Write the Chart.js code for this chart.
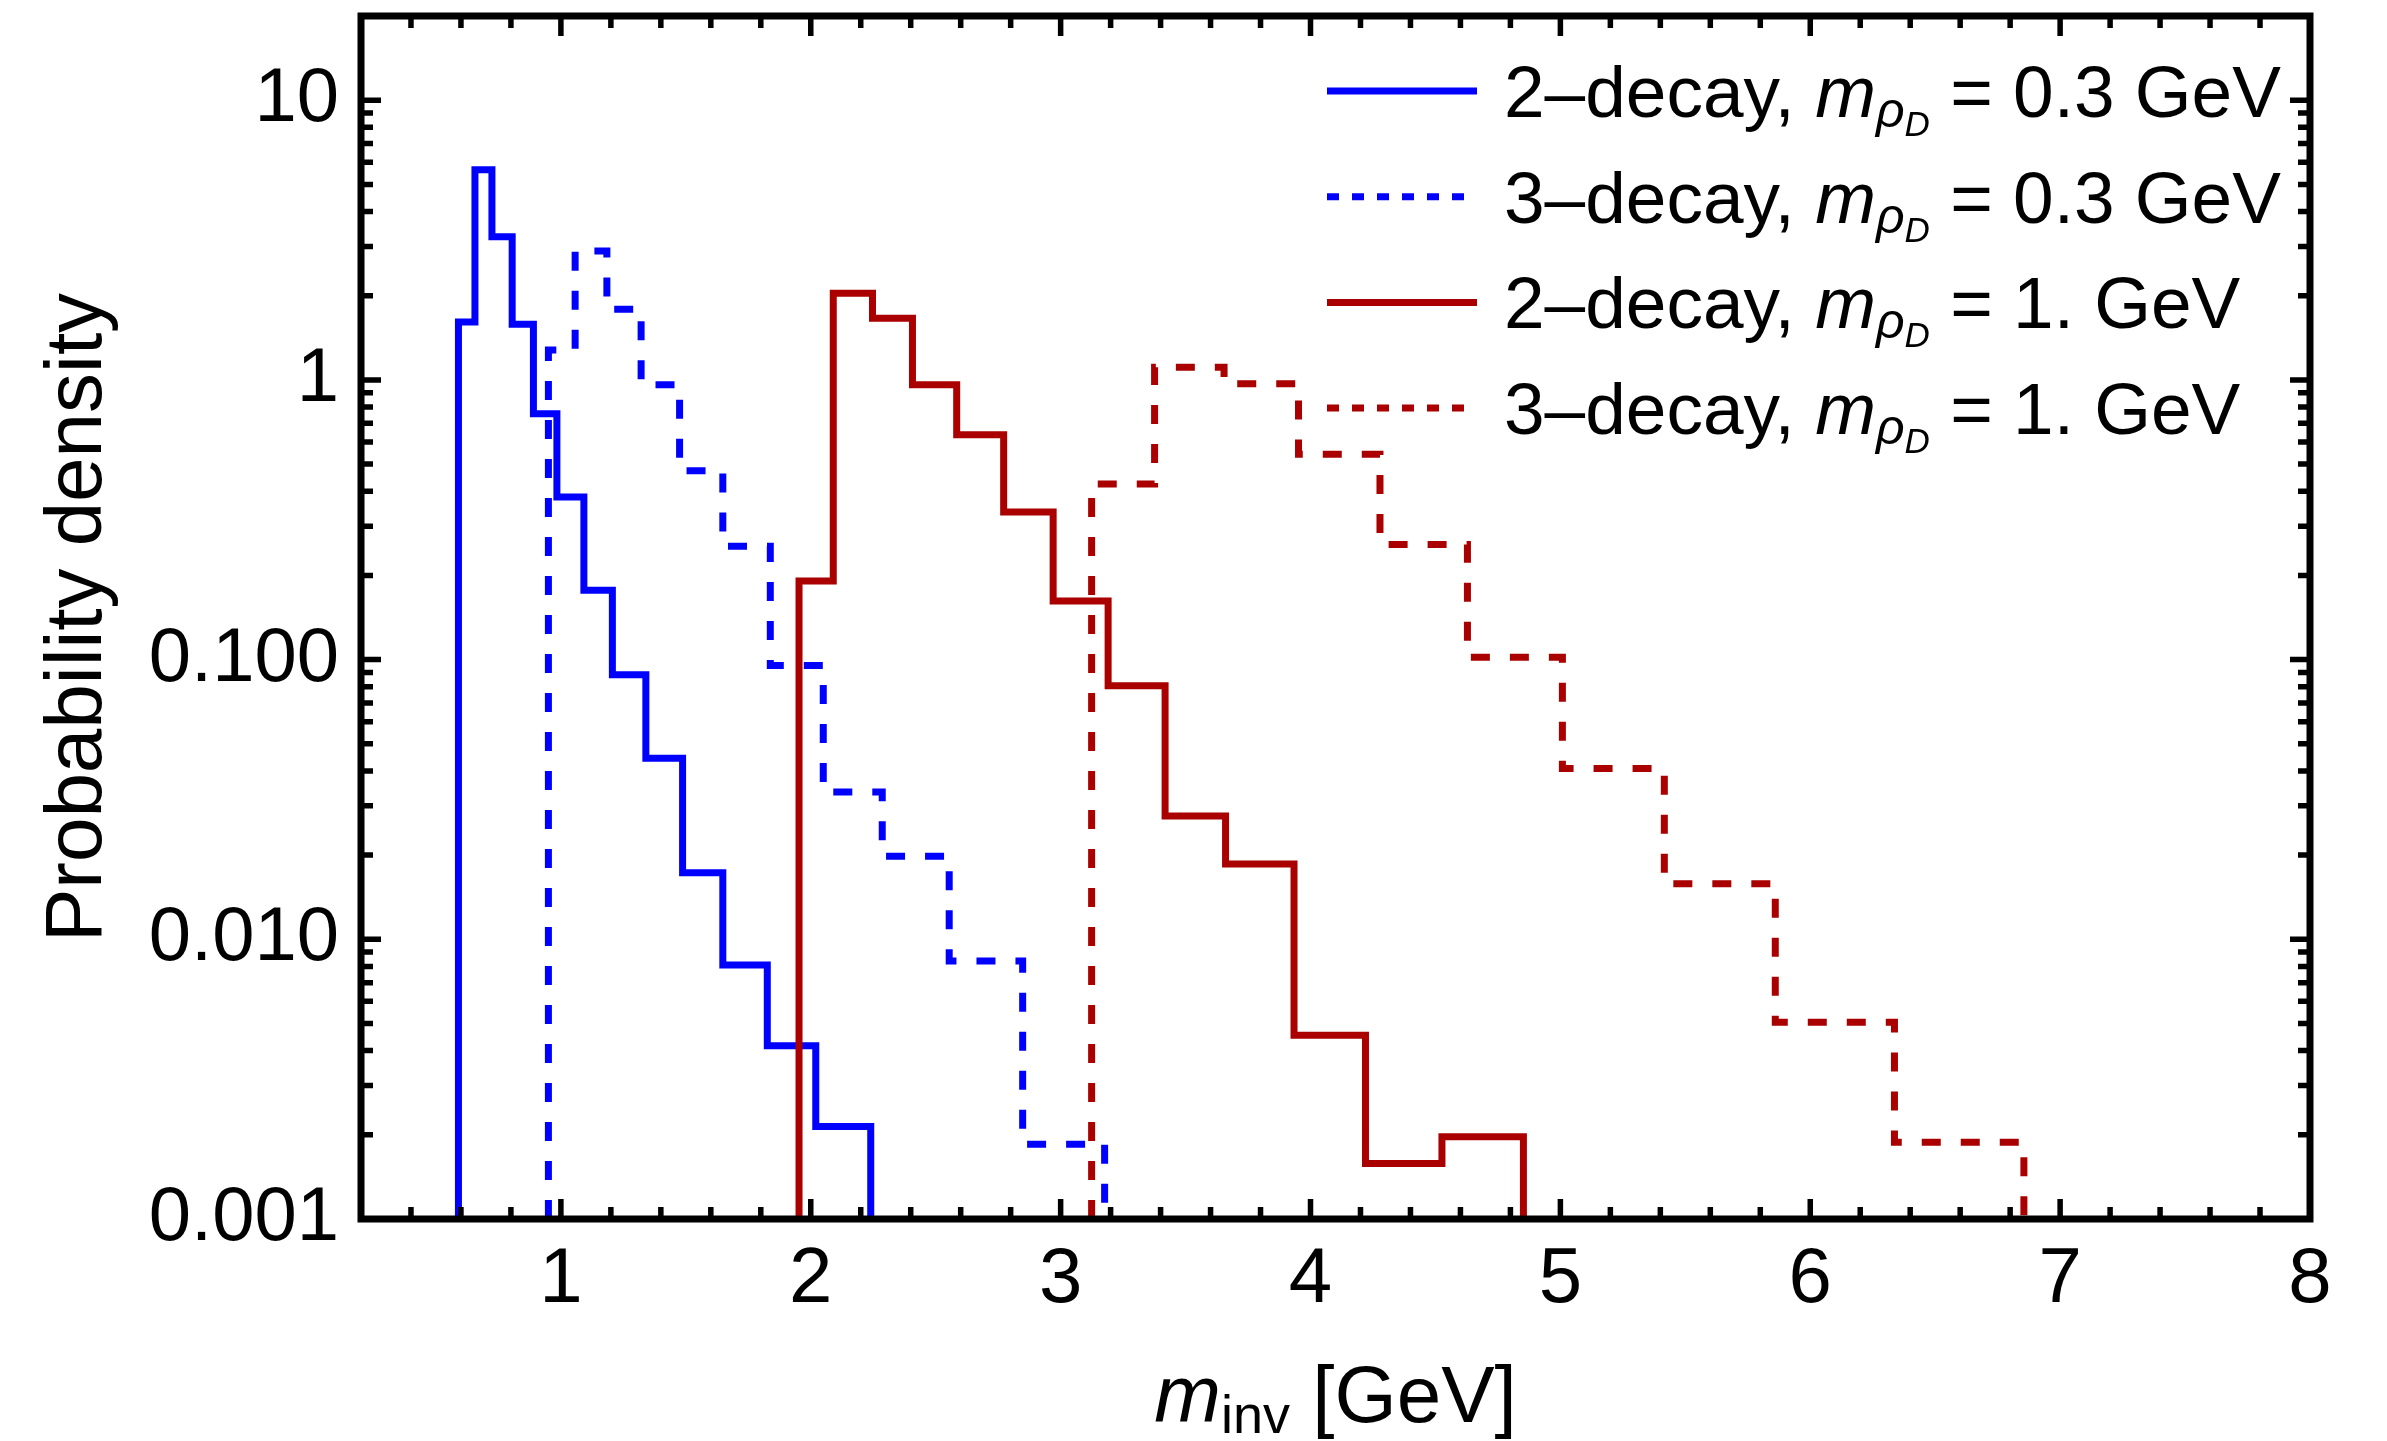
<!DOCTYPE html>
<html>
<head>
<meta charset="utf-8">
<script src="https://cdn.jsdelivr.net/npm/chart.js@4.4.1/dist/chart.umd.min.js"></script>
<style>
  html, body { margin: 0; padding: 0; background: #fff; }
</style>
</head>
<body>
<canvas id="myChart" width="2387" height="1441"></canvas>
<script>
// histogram bin edges (GeV) and probability densities
const edges2Light = [0.59, 0.656, 0.724, 0.805, 0.89, 0.984, 1.092, 1.206, 1.34, 1.487, 1.648, 1.826, 2.02, 2.24];
const dens2Light = [1.61, 5.64, 3.25, 1.58, 0.757, 0.381, 0.177, 0.0883, 0.0444, 0.0173, 0.0081, 0.00416, 0.00214];

const edges3Light = [0.95, 1.057, 1.184, 1.321, 1.475, 1.648, 1.838, 2.05, 2.286, 2.554, 2.848, 3.176];
const dens3Light = [1.28, 2.89, 1.79, 0.96, 0.473, 0.254, 0.0952, 0.0336, 0.0198, 0.00837, 0.00185];

const edges2Heavy = [1.953, 2.09, 2.247, 2.407, 2.584, 2.772, 2.97, 3.19, 3.418, 3.66, 3.934, 4.22, 4.526, 4.852];
const dens2Heavy = [0.191, 2.04, 1.66, 0.96, 0.637, 0.337, 0.162, 0.0807, 0.0276, 0.0186, 0.00454, 0.00158, 0.00197];

const edges3Heavy = [3.124, 3.376, 3.654, 3.952, 4.278, 4.628, 5.008, 5.416, 5.86, 6.337, 6.855];
const dens3Heavy = [0.424, 1.11, 0.968, 0.542, 0.258, 0.102, 0.0408, 0.0158, 0.00505, 0.00188];

const seriesNames = ["2\u2013decay", "3\u2013decay", "2\u2013decay", "3\u2013decay"];
const massLabels = ["0.3 GeV", "0.3 GeV", "1. GeV", "1. GeV"];

const xTicks = [1, 2, 3, 4, 5, 6, 7, 8];
const xTickLabels = ["1", "2", "3", "4", "5", "6", "7", "8"];
const yTicks = [0.001, 0.01, 0.1, 1, 10];
const yTickLabels = ["0.001", "0.010", "0.100", "1", "10"];

const X_MIN = 0.2, X_MAX = 8;
const Y_MIN = 0.001, Y_MAX = 20;

const BLUE = "#0000ff";
const DARKRED = "#aa0000";
const FONT = "'Liberation Sans', Arial, sans-serif";
const DASH = [19, 20];

/* turn edges + bin heights into the corner points of a step outline */
function histPoints(edges, vals) {
  const last = edges[edges.length - 1];
  const pts = [{ x: edges[0], y: Y_MIN }];
  vals.forEach((v, i) => pts.push({ x: edges[i], y: v }));
  pts.push({ x: last, y: vals[vals.length - 1] });
  pts.push({ x: last, y: Y_MIN });
  return pts;
}

function histDataset(edges, vals, color, dashed, order) {
  return {
    data: histPoints(edges, vals),
    showLine: true,
    stepped: true,
    borderColor: color,
    borderWidth: 7,
    borderDash: dashed ? DASH : [],
    borderJoinStyle: "miter",
    borderCapStyle: "butt",
    pointRadius: 0,
    pointHoverRadius: 0,
    fill: false,
    order: order,
  };
}

const legendStyles = [
  { color: BLUE, dash: [] },
  { color: BLUE, dash: [12, 13] },
  { color: DARKRED, dash: [] },
  { color: DARKRED, dash: [12, 13] },
];

function richText(ctx, x, y, parts, align) {
  let w = 0;
  parts.forEach((p) => {
    ctx.font = p.font;
    p.w = ctx.measureText(p.text).width;
    w += p.w;
  });
  let cx = align === "center" ? x - w / 2 : x;
  parts.forEach((p) => {
    ctx.font = p.font;
    ctx.fillText(p.text, cx, y + (p.dy || 0));
    cx += p.w;
  });
}

/* Mathematica-like frame with inward ticks on all four sides */
const frameTicks = {
  id: "frameTicks",
  afterDatasetsDraw(chart) {
    const { ctx, chartArea: a, scales } = chart;
    const xs = scales.x, ys = scales.y;
    ctx.save();
    ctx.strokeStyle = "#000";
    ctx.lineCap = "butt";
    ctx.lineWidth = 5.5;
    const MAJ = 20, MIN = 12;

    const tickX = (px, len) => {
      ctx.beginPath();
      ctx.moveTo(px, a.bottom); ctx.lineTo(px, a.bottom - len);
      ctx.moveTo(px, a.top); ctx.lineTo(px, a.top + len);
      ctx.stroke();
    };
    const tickY = (py, len) => {
      ctx.beginPath();
      ctx.moveTo(a.left, py); ctx.lineTo(a.left + len, py);
      ctx.moveTo(a.right, py); ctx.lineTo(a.right - len, py);
      ctx.stroke();
    };

    // x: majors at integers, minors every 0.2
    for (let i = 1; i < X_MAX * 5; i++) {
      const v = i / 5;
      if (v <= X_MIN) continue;
      tickX(xs.getPixelForValue(v), i % 5 === 0 ? MAJ : MIN);
    }
    // y: decades plus 2..9 multiples
    yTicks.forEach((d) => {
      tickY(ys.getPixelForValue(d), MAJ);
      for (let m = 2; m <= 9; m++) {
        const v = d * m;
        if (v < Y_MAX) tickY(ys.getPixelForValue(v), MIN);
      }
    });

    ctx.lineWidth = 7;
    ctx.strokeRect(a.left, a.top, a.right - a.left, a.bottom - a.top);
    ctx.restore();
  },
};

/* legend and x-axis title need sub/subscripts, so they are drawn by hand */
const annotations = {
  id: "annotations",
  afterDraw(chart) {
    const { ctx, chartArea: a } = chart;
    ctx.save();
    ctx.fillStyle = "#000";
    ctx.textBaseline = "alphabetic";
    ctx.textAlign = "left";

    // legend
    const lineX0 = a.right - 983, lineX1 = a.right - 833, textX = a.right - 806;
    const rowY0 = a.top + 75, rowStep = 105.7;
    seriesNames.forEach((name, i) => {
      const y = rowY0 + i * rowStep;
      const st = legendStyles[i];
      ctx.save();
      ctx.strokeStyle = st.color;
      ctx.lineWidth = 7;
      ctx.setLineDash(st.dash);
      ctx.beginPath();
      ctx.moveTo(lineX0, y);
      ctx.lineTo(lineX1, y);
      ctx.stroke();
      ctx.restore();
      richText(ctx, textX, y + 26, [
        { text: name + ", ", font: "73px " + FONT },
        { text: "m", font: "italic 73px " + FONT },
        { text: "\u03c1", font: "italic 50px " + FONT, dy: 10 },
        { text: "D", font: "italic 35px " + FONT, dy: 19 },
        { text: " = " + massLabels[i], font: "73px " + FONT },
      ]);
    });

    // x-axis title
    richText(ctx, (a.left + a.right) / 2, 1422, [
      { text: "m", font: "italic 80px " + FONT },
      { text: "inv", font: "54px " + FONT, dy: 11 },
      { text: " [GeV]", font: "80px " + FONT },
    ], "center");
    ctx.restore();
  },
};

const canvas = document.getElementById("myChart");
const ctx = canvas.getContext("2d");

const data = {
  datasets: [
    histDataset(edges2Light, dens2Light, BLUE, false, 4),
    histDataset(edges3Light, dens3Light, BLUE, true, 3),
    histDataset(edges2Heavy, dens2Heavy, DARKRED, false, 2),
    histDataset(edges3Heavy, dens3Heavy, DARKRED, true, 1),
  ],
};

const config = {
  type: "scatter",
  data,
  options: {
    responsive: false,
    animation: false,
    devicePixelRatio: 1,
    layout: { padding: { top: 16, right: 77, left: 0, bottom: 0 } },
    plugins: {
      legend: { display: false },
      tooltip: { enabled: false },
    },
    scales: {
      x: {
        type: "linear",
        min: X_MIN,
        max: X_MAX,
        afterBuildTicks: (s) => { s.ticks = xTicks.map((v) => ({ value: v })); },
        afterFit: (s) => {
          s.height = 222;
          s.paddingLeft = 0;
          s.paddingRight = 0;
        },
        ticks: {
          autoSkip: false,
          maxRotation: 0,
          padding: 7,
          color: "#000",
          font: { family: FONT, size: 78, lineHeight: 1.2 },
          callback: (v) => xTickLabels[xTicks.indexOf(v)],
        },
        grid: { display: false },
        border: { display: false },
      },
      y: {
        type: "logarithmic",
        min: Y_MIN,
        max: Y_MAX,
        afterBuildTicks: (s) => { s.ticks = yTicks.map((v) => ({ value: v })); },
        afterFit: (s) => {
          s.width = 361;
          s.paddingTop = 0;
          s.paddingBottom = 0;
        },
        ticks: {
          autoSkip: false,
          padding: 14,
          color: "#000",
          font: { family: FONT, size: 76 },
          callback: (v) => yTickLabels[yTicks.indexOf(v)],
        },
        grid: { display: false },
        border: { display: false },
        title: {
          display: true,
          text: "Probability density",
          color: "#000",
          font: { family: FONT, size: 80, lineHeight: 1.2 },
          padding: { top: 31, bottom: 0 },
        },
      },
    },
  },
  plugins: [frameTicks, annotations],
};

canvas.chart = new Chart(ctx, config);
</script>
</body>
</html>
